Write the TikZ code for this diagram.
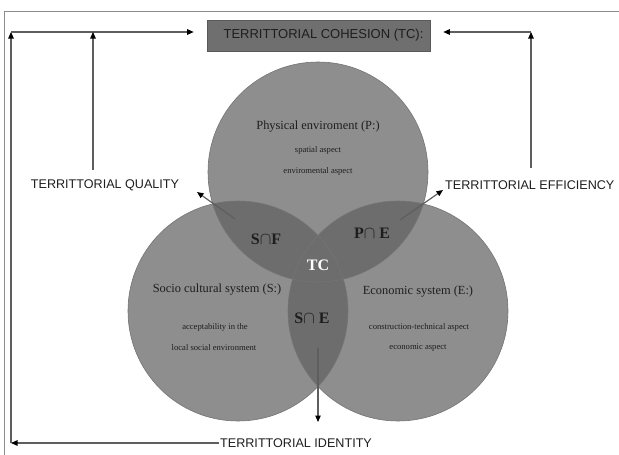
\documentclass[tikz,border=0pt]{standalone}
\usepackage{fontspec}
\setmainfont{Liberation Serif}
\newfontfamily\arialf{Liberation Sans}
\usetikzlibrary{arrows.meta}
\definecolor{singlec}{HTML}{8E8E8E}
\definecolor{lensc}{HTML}{6D6D6D}
\definecolor{rimc}{HTML}{747474}
\definecolor{linec}{HTML}{5E5E5E}
\definecolor{boxfill}{HTML}{6F6F6F}
\definecolor{framec}{HTML}{8C8C8C}
\definecolor{txt}{HTML}{1E1E1E}
\begin{document}
\begin{tikzpicture}[x=1pt,y=-1pt,
  arr/.style={draw=linec, line width=1.2pt, -{Triangle[length=6.5pt,width=5.5pt,color=black]}},
  sanslabel/.style={font=\arialf\fontsize{12.6}{14}\selectfont, text=txt, inner sep=1pt},
  circtitle/.style={font=\fontsize{12.4}{14}\selectfont, text=txt, inner sep=0pt},
  smalltxt/.style={font=\fontsize{8.6}{10}\selectfont, text=txt, inner sep=0pt},
  inter/.style={font=\bfseries\fontsize{16}{18}\selectfont, text=txt, inner sep=0pt}
]
\useasboundingbox (0,0) rectangle (619,455);
% outer frame (top and left)
\draw[framec, line width=0.8pt] (4,455) -- (4,11) -- (619,11);

% circles
\coordinate (cP) at (318,172);
\coordinate (cS) at (238,311);
\coordinate (cE) at (398,311);
\fill[singlec] (cS) circle (110pt);
\fill[singlec] (cE) circle (110pt);
\fill[singlec] (cP) circle (110pt);
\begin{scope}
  \clip (cS) circle (110pt);
  \fill[lensc] (cP) circle (110pt);
  \fill[lensc] (cE) circle (110pt);
\end{scope}
\begin{scope}
  \clip (cP) circle (110pt);
  \fill[lensc] (cE) circle (110pt);
\end{scope}
\draw[rimc, line width=0.6pt] (cS) circle (110pt);
\draw[rimc, line width=0.6pt] (cE) circle (110pt);
\draw[rimc, line width=0.6pt] (cP) circle (110pt);

% title box
\node[draw=black!65, line width=0.6pt, fill=boxfill, minimum width=223pt, minimum height=31pt,
      inner sep=0pt, font=\arialf\fontsize{13}{15}\selectfont, text=txt] (title) at (318.5,35.5)
      {\hspace{10pt}TERRITTORIAL COHESION (TC):};

% circle texts
\node[circtitle] (ptitle) at (318,127) {Physical enviroment (P:)};
\node[smalltxt] (p1) at (318,150) {spatial aspect};
\node[smalltxt] (p2) at (318,171) {enviromental aspect};

\node[circtitle] (stitle) at (217,290) {Socio cultural system (S:)};
\node[smalltxt] (s1) at (215,327) {acceptability in the};
\node[smalltxt] (s2) at (214,348) {local social environment};

\node[circtitle] (etitle) at (418,292) {Economic system (E:)};
\node[smalltxt] (e1) at (419,327) {construction-technical aspect};
\node[smalltxt] (e2) at (418,348) {economic aspect};

% intersection labels
\node[inter] (SF) at (266,239) {S\(\cap\)F};
\node[inter] (PE) at (372,233) {P\(\cap\) E};
\node[inter, text=white] (TC) at (318,265) {TC};
\node[inter] (SE) at (312,318) {S\(\cap\) E};

% outer labels
\node[sanslabel] (quality) at (105,185) {TERRITTORIAL QUALITY};
\node[sanslabel, anchor=west] (efficiency) at (444,185) {TERRITTORIAL EFFICIENCY};
\node[sanslabel, anchor=west] (identity) at (219,443) {TERRITTORIAL IDENTITY};

% connector points
\coordinate (bl) at (11,443);
\coordinate (tl) at (11,32);
\coordinate (qbot) at (93,170);
\coordinate (qtop) at (93,32);
\coordinate (ebot) at (531,168);
\coordinate (etop) at (531,32);
\coordinate (sftail) at (235,219);
\coordinate (sftip) at (197,192);
\coordinate (petail) at (400,220);
\coordinate (petip) at (443,190);
\coordinate (setail) at (318,348);
\coordinate (setip) at (318,422);

% connectors
\draw[arr] (identity.west) -- (bl);
\draw[arr] (bl) -- (tl);
\draw[arr, shorten >=13pt] (tl) -- (tl -| title.west);
\draw[arr] (qbot) -- (qtop);
\draw[arr] (ebot) -- (etop);
\draw[arr, shorten >=13pt] (etop) -- (etop -| title.east);
\draw[arr] (sftail) -- (sftip);
\draw[arr] (petail) -- (petip);
\draw[arr] (setail) -- (setip);
\end{tikzpicture}
\end{document}
